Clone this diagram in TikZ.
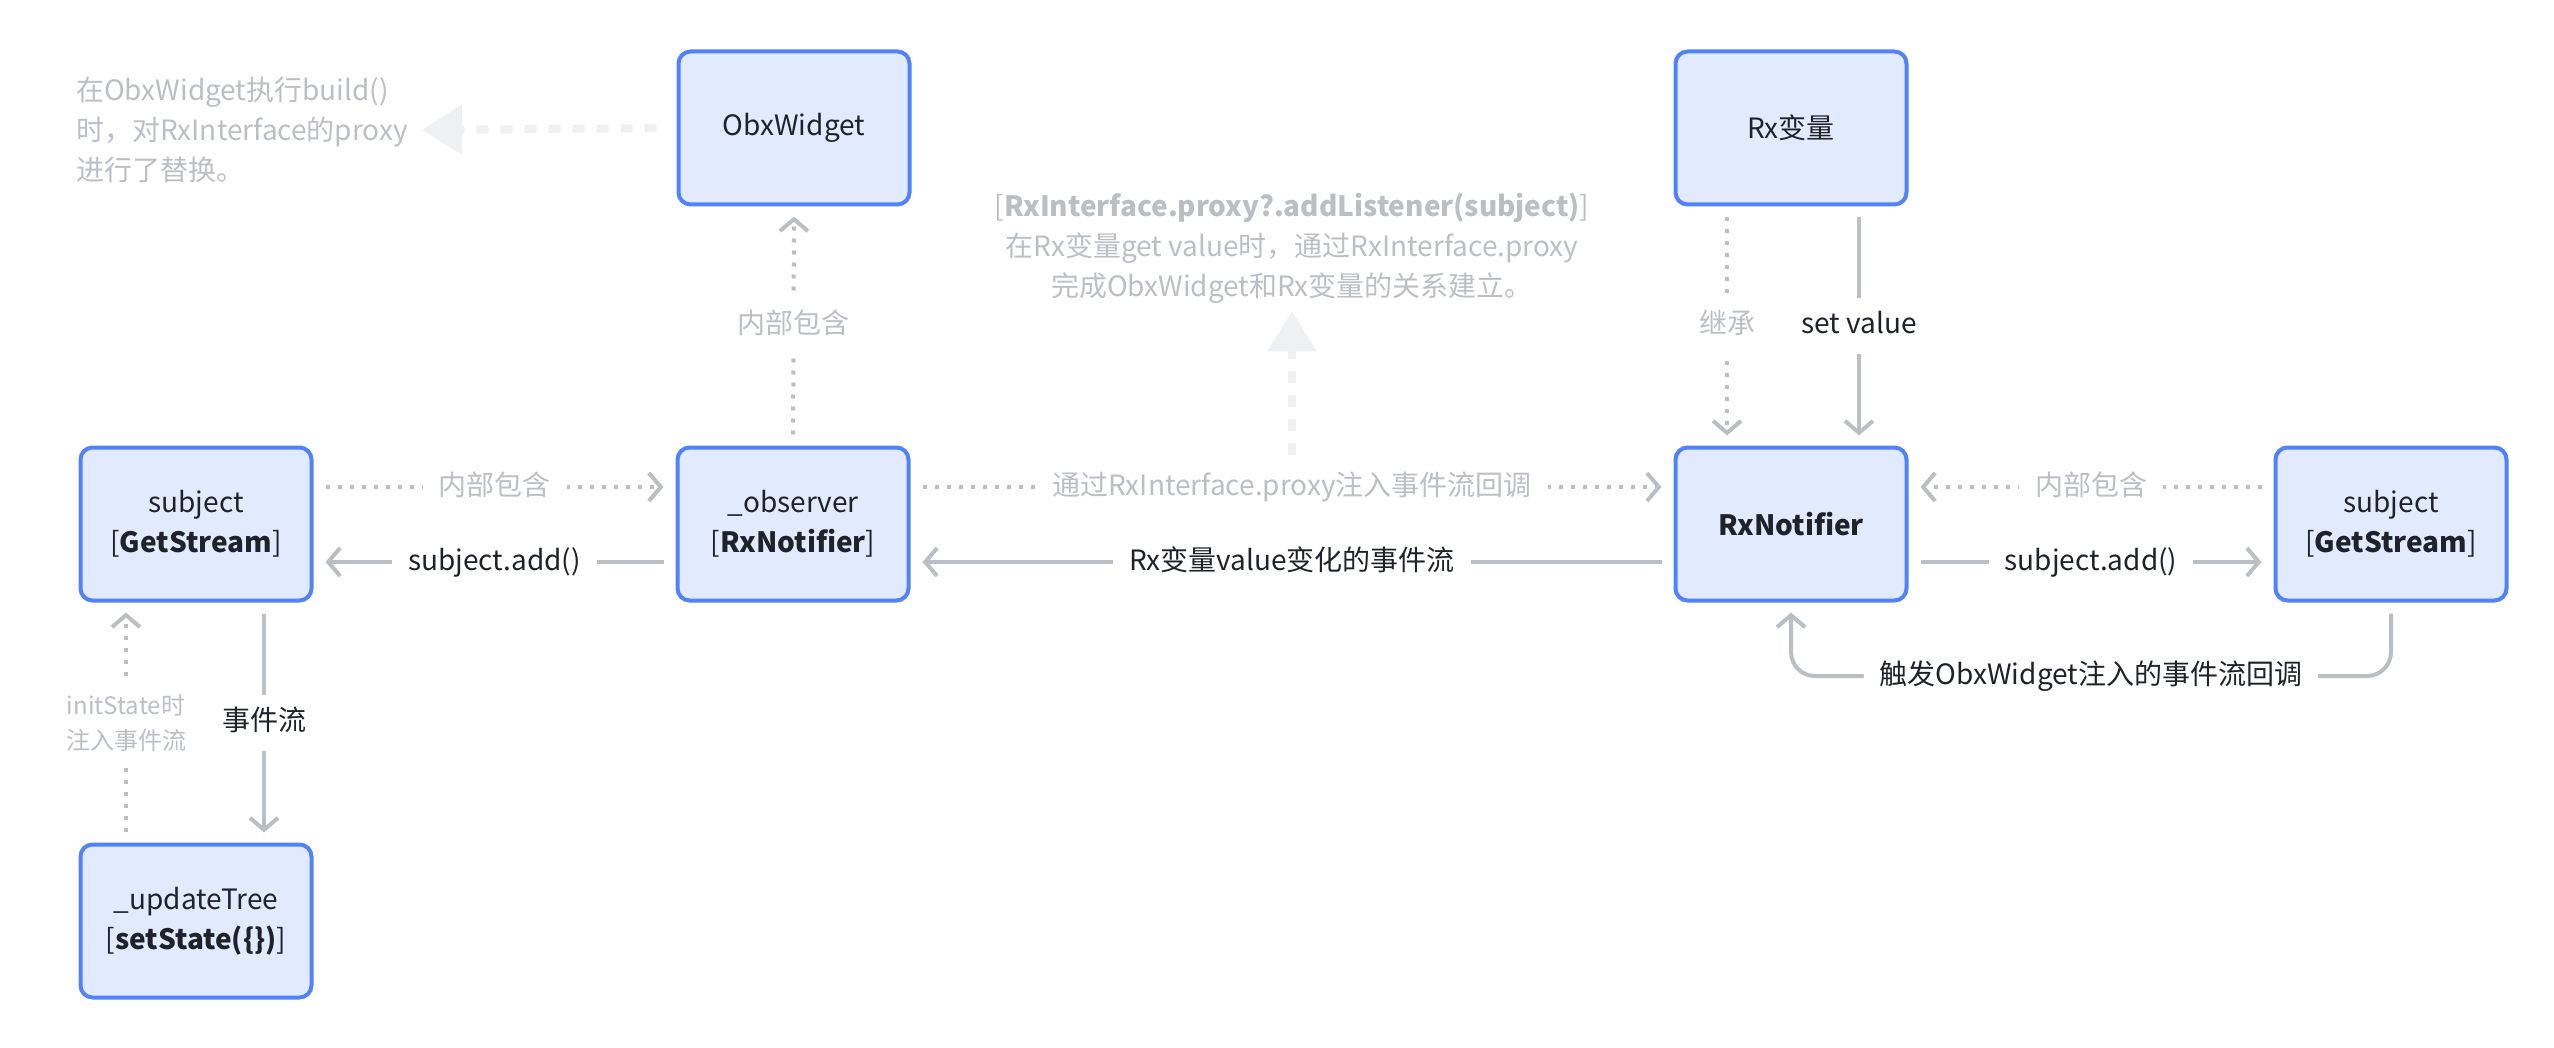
\documentclass[tikz,border=0pt]{standalone}
\usepackage{fontspec}
\setmainfont{Noto Sans CJK SC}
\usetikzlibrary{arrows.meta}
\definecolor{boxfill}{HTML}{E1EAFF}
\definecolor{boxline}{HTML}{5083FB}
\definecolor{txt}{HTML}{1F2329}
\definecolor{conn}{HTML}{BBBFC4}
\definecolor{faint}{HTML}{EFF0F1}
\begin{document}
\begin{tikzpicture}[x=1pt,y=-1pt,
  font=\fontsize{28pt}{40pt}\selectfont,
  box/.style={draw=boxline, fill=boxfill, line width=4pt, rounded corners=12pt,
    minimum width=231pt, minimum height=153pt, align=center, text=txt, inner sep=0pt},
  conline/.style={draw=conn, line width=4pt,
    -{Straight Barb[length=12pt,width=28pt,line width=4pt]}, shorten <=11pt, shorten >=10pt},
  solidarr/.style={conline},
  dotarr/.style={conline, dash pattern=on 4pt off 8pt},
  lbl/.style={fill=white, text=txt, inner xsep=16pt, inner ysep=14pt, text height=22pt, text depth=6pt},
  glbl/.style={lbl, text=conn},
  faintarr/.style={draw=faint, line width=8pt, dash pattern=on 12pt off 12pt,
    -{Triangle[length=40pt,width=48pt]}},
  notetext/.style={text=conn, inner sep=0pt}
]
\useasboundingbox (0,0) rectangle (2554,1048);

% boxes
\node[box] (obx) at (794,128) {ObxWidget};
\node[box] (rxv) at (1791,128) {Rx变量};
\node[box] (subL) at (196,524) {subject\\{[}\textbf{GetStream}{]}};
\node[box] (obs) at (793,524) {\_observer\\{[}\textbf{RxNotifier}{]}};
\node[box] (rxn) at (1791,524) {\textbf{RxNotifier}};
\node[box] (subR) at (2391,524) {subject\\{[}\textbf{GetStream}{]}};
\node[box] (upd) at (196,921) {\_updateTree\\{[}\textbf{setState(\{\})}{]}};

% notes
\node[notetext, anchor=west, align=left] (note1) at (76,130)
  {在ObxWidget执行build()\\时，对RxInterface的proxy\\进行了替换。};
\node[notetext, align=center] (note2) at (1292,248)
  {[\textbf{RxInterface.proxy?.addListener(subject)}]\\在Rx变量get value时，通过RxInterface.proxy\\完成ObxWidget和Rx变量的关系建立。};

% faint arrows
\draw[faintarr, shorten <=20pt, shorten >=14pt] (obx.west) -- (note1.east);
\coordinate (midfoot) at (1292,455);
\draw[faintarr, shorten >=8pt] (midfoot) -- (note2.south);

% vertical connectors
\draw[dotarr] (obs.north) -- node[glbl]{内部包含} (obx.south);
\draw[dotarr] ([xshift=-64pt]rxv.south) -- node[glbl]{继承} ([xshift=-64pt]rxn.north);
\draw[solidarr] ([xshift=68pt]rxv.south) -- node[lbl]{set value} ([xshift=68pt]rxn.north);
\draw[dotarr] ([xshift=-70pt]upd.north) -- node[glbl, text height=, text depth=, font=\fontsize{24pt}{35pt}\selectfont, align=center]{initState时\\注入事件流} ([xshift=-70pt]subL.south);
\draw[solidarr] ([xshift=68pt]subL.south) -- node[lbl]{事件流} ([xshift=68pt]upd.north);

% horizontal connectors
\draw[dotarr, shorten <=12pt, shorten >=12pt] ([yshift=37pt]subL.east) -- node[glbl]{内部包含} ([yshift=37pt]obs.west);
\draw[solidarr, shorten <=12pt, shorten >=12pt] ([yshift=-38pt]obs.west) -- node[lbl]{subject.add()} ([yshift=-38pt]subL.east);
\draw[dotarr, shorten <=12pt, shorten >=12pt] ([yshift=37pt]obs.east) -- node[glbl]{通过RxInterface.proxy注入事件流回调} ([yshift=37pt]rxn.west);
\draw[solidarr, shorten <=12pt, shorten >=12pt] ([yshift=-38pt]rxn.west) -- node[lbl]{Rx变量value变化的事件流} ([yshift=-38pt]obs.east);
\draw[dotarr, shorten <=12pt, shorten >=12pt] ([yshift=37pt]subR.west) -- node[glbl]{内部包含} ([yshift=37pt]rxn.east);
\draw[solidarr, shorten <=12pt, shorten >=12pt] ([yshift=-38pt]rxn.east) -- node[lbl]{subject.add()} ([yshift=-38pt]subR.west);

% loop
\coordinate (loopy) at (0,676);
\draw[solidarr, rounded corners=24pt] (subR.south) -- (subR.south |- loopy)
  -- node[lbl]{触发ObxWidget注入的事件流回调} (rxn.south |- loopy) -- (rxn.south);
\end{tikzpicture}
\end{document}
